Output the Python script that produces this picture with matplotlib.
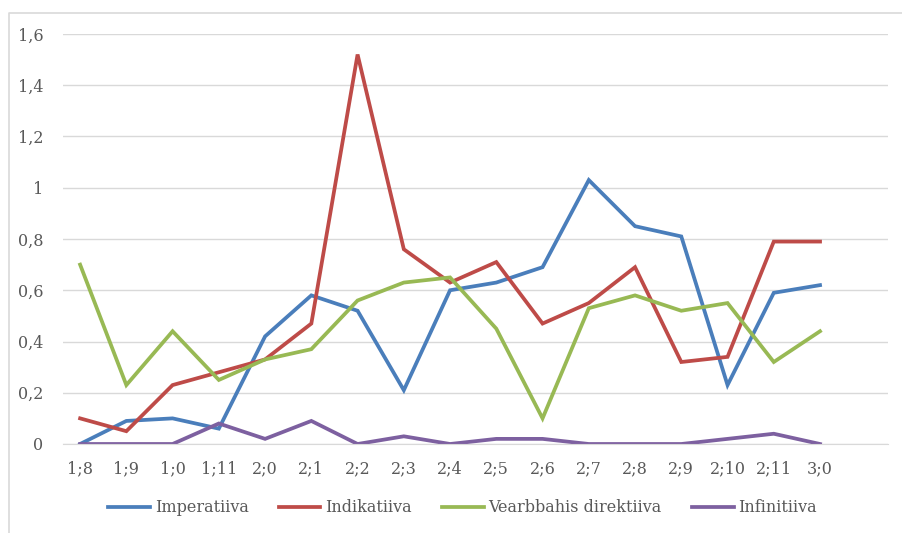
import numpy as np
import matplotlib.pyplot as plt
from matplotlib.lines import Line2D
from matplotlib.ticker import FuncFormatter

plt.rcParams['font.family'] = ['DejaVu Serif']

ages = ["1;8", "1;9", "1;0", "1;11", "2;0", "2;1", "2;2", "2;3", "2;4",
        "2;5", "2;6", "2;7", "2;8", "2;9", "2;10", "2;11", "3;0"]

imperatiiva = [0, 0.09, 0.10, 0.06, 0.42, 0.58, 0.52, 0.21, 0.60,
               0.63, 0.69, 1.03, 0.85, 0.81, 0.23, 0.59, 0.62]
indikatiiva = [0.10, 0.05, 0.23, 0.28, 0.33, 0.47, 1.52, 0.76, 0.63,
               0.71, 0.47, 0.55, 0.69, 0.32, 0.34, 0.79, 0.79]
vearbbahis = [0.70, 0.23, 0.44, 0.25, 0.33, 0.37, 0.56, 0.63, 0.65,
              0.45, 0.10, 0.53, 0.58, 0.52, 0.55, 0.32, 0.44]
infinitiiva = [0, 0, 0, 0.08, 0.02, 0.09, 0, 0.03, 0,
               0.02, 0.02, 0, 0, 0, 0.02, 0.04, 0]

series = [("Imperatiiva", imperatiiva, "#4A7EBB"),
          ("Indikatiiva", indikatiiva, "#BE4B48"),
          ("Vearbbahis direktiiva", vearbbahis, "#98B954"),
          ("Infinitiiva", infinitiiva, "#7D60A0")]

W, H = 902, 533
fig = plt.figure(figsize=(W / 100, H / 100), dpi=100)
ax = fig.add_axes([63 / W, 1 - 444 / H, (888 - 63) / W, (444 - 34) / H])

# chart border (only left and top edges are inside the crop)
bx, by = 8.5 / W, 1 - 12.5 / H
fig.lines.append(Line2D([bx, bx, 1.0], [0.0, by, by], transform=fig.transFigure,
                        color="#d9d9d9", linewidth=1.2))

x = np.arange(len(ages))
for name, vals, col in series:
    ax.plot(x, vals, color=col, linewidth=2.7, label=name, solid_joinstyle="miter")

ax.set_ylim(0, 1.6)
ax.set_yticks(np.arange(0, 1.61, 0.2))
ax.yaxis.set_major_formatter(FuncFormatter(
    lambda v, p: ("%g" % round(v, 1)).replace(".", ",")))
ax.set_xlim(-0.37, 17.47)
ax.set_xticks(x)
ax.set_xticklabels(ages)

ax.grid(axis="y", color="#d9d9d9", linewidth=1)
ax.set_axisbelow(True)
for s in ["top", "right", "left"]:
    ax.spines[s].set_visible(False)
ax.spines["bottom"].set_color("#d9d9d9")
ax.tick_params(axis="both", length=0, labelsize=11.5, colors="#595959")
ax.tick_params(axis="y", pad=14)
ax.tick_params(axis="x", pad=12)

fig.legend(loc="center", bbox_to_anchor=(0.513, 1 - 508 / H), ncol=4, frameon=False,
           fontsize=11.5, handlelength=2.6, handletextpad=0.3, columnspacing=1.9,
           labelcolor="#595959")

fig.savefig("out.png", dpi=100)
